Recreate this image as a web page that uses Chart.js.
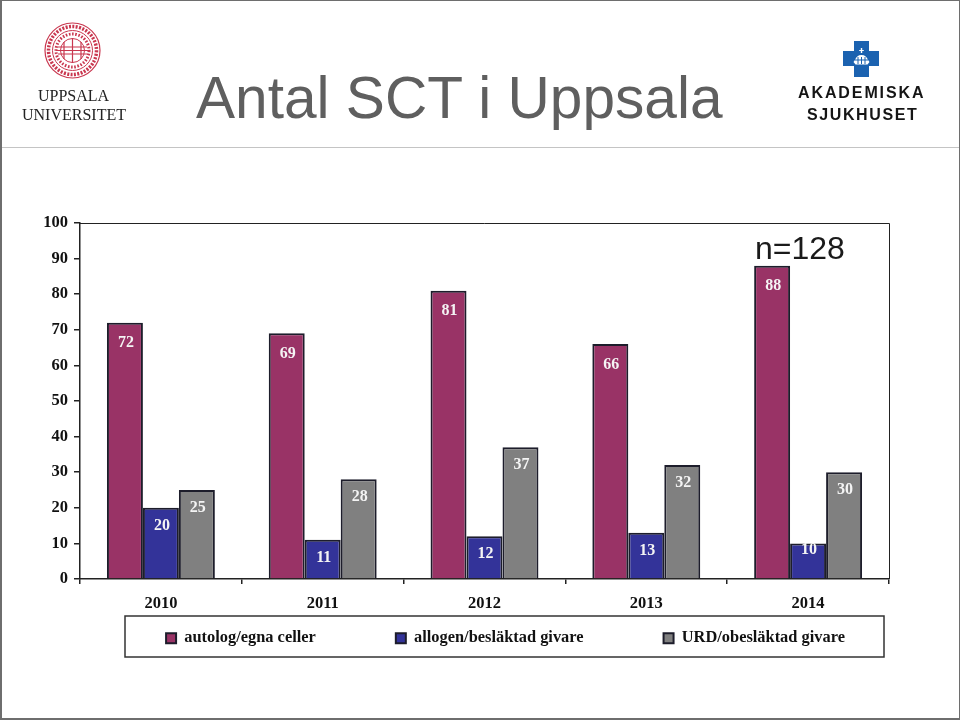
<!DOCTYPE html>
<html>
<head>
<meta charset="utf-8">
<title>Antal SCT i Uppsala</title>
<script src="https://cdn.jsdelivr.net/npm/chart.js@4"></script>
<style>
html, body { margin: 0; padding: 0; background: #fff; }
#slide { position: relative; width: 960px; height: 720px; overflow: hidden; }
#slide canvas { position: absolute; left: 0; top: 0; }
.txt { position: absolute; white-space: nowrap; line-height: 1; }
#frame { position: absolute; left: 0; top: 0; width: 957px; height: 717px; border: 1px solid #6e6e6e; border-left-width: 2px; border-bottom-width: 2px; }
#rule { position: absolute; left: 0; top: 147px; width: 960px; height: 1px; background: #c4c4c4; }
#title { left: 196px; top: 64px; font: 58.600px "Liberation Sans"; color: #5f5f5f; }
#count { left: 755px; top: 230px; font: 32px "Liberation Sans"; color: #1a1a1a; }
.uu { font-family: "Liberation Serif"; color: #222; }
.as { font-family: "Liberation Sans"; font-weight: bold; color: #151515; }
#logos { position: absolute; left: 0; top: 0; }
</style>
</head>
<body>
<div id="slide">
  <canvas id="sct" width="960" height="720"></canvas>
  <div id="rule"></div>
  <svg id="logos" width="960" height="147">
    <g fill="none" stroke="#c9374f">
      <circle cx="72.5" cy="50.5" r="27.5" stroke-width="1.2"/>
      <circle cx="72.5" cy="50.5" r="24" stroke-width="3.5" stroke-dasharray="2 1.4"/>
      <circle cx="72.5" cy="50.5" r="20" stroke-width="1"/>
      <circle cx="72.5" cy="50.5" r="16.5" stroke-width="3" stroke-dasharray="1.6 1.6"/>
      <circle cx="72.5" cy="50.5" r="12" stroke-width="1"/>
      <path d="M56 50.5h33M58 47h29M58 54h29M72.5 38v25M64 42v17M81 42v17" stroke-width="1.2"/>
    </g>
    <path fill="#1b62b0" d="M854 41h15v10h10v15h-10v11h-15v-11h-11v-15h11z"/>
    <path fill="#fff" d="M860.8 48h1.4v2h1.6v1h-1.6v2h-1.4v-2h-1.6v-1h1.6zM855 60c1-3 3-5 6.500-5s5.500 2 6.500 5l1.500 2-2 2.500h-12l-2-2.500z"/>
    <path fill="none" stroke="#1b62b0" d="M855 60h13M858 57v7M861.500 57v7M865 57v7"/>
  </svg>
  <div class="txt uu" style="left:38px;top:88px;font-size:16px">UPPSALA</div>
  <div class="txt uu" style="left:22px;top:107px;font-size:16px">UNIVERSITET</div>
  <div class="txt as" style="left:798px;top:85px;font-size:16px;letter-spacing:1.900px">AKADEMISKA</div>
  <div class="txt as" style="left:807px;top:107px;font-size:16px;letter-spacing:1.600px">SJUKHUSET</div>
  <div class="txt" id="title">Antal SCT i Uppsala</div>
  <div class="txt" id="count">n=128</div>
  <div id="frame"></div>
</div>
<script>
var years = ["2010", "2011", "2012", "2013", "2014"];
var autolog = [72, 69, 81, 66, 88];
var allogen = [20, 11, 12, 13, 10];
var urd = [25, 28, 37, 32, 30];

var serif = "Liberation Serif";
var edge = "#1d1d2b";

// value labels sit inside the bar top, the short 10 bar gets them closer
var barLabels = {
    id: "barLabels",
    afterDatasetsDraw: function (chart) {
        var ctx = chart.ctx;
        ctx.save();
        ctx.font = "bold 16px '" + serif + "'";
        ctx.fillStyle = "#f4f4f4";
        ctx.textAlign = "center";
        ctx.textBaseline = "middle";
        chart.data.datasets.forEach(function (ds, i) {
            chart.getDatasetMeta(i).data.forEach(function (bar, j) {
                var down = ds.data[j] === 10 ? 6 : (i === 0 ? 20.5 : 18);
                ctx.fillText(ds.data[j], bar.x + 1, bar.y + down);
            });
        });
        ctx.restore();
    }
};

// closes the plot on top and right, and draws the box round the legend
var boxes = {
    id: "boxes",
    afterLayout: function (chart) {
        var lg = chart.legend;
        var shift = 51;
        lg.left += shift;
        lg.right += shift;
        lg.top = 630 - 80;
        lg.bottom = 660;
    },
    beforeDraw: function (chart) {
        var ctx = chart.ctx;
        ctx.save();
        ctx.strokeStyle = "#333";
        ctx.lineWidth = 1.5;
        ctx.strokeRect(125, 616, 759, 41);
        ctx.restore();
    },
    afterDraw: function (chart) {
        var a = chart.chartArea;
        var ctx = chart.ctx;
        ctx.save();
        ctx.strokeStyle = "#222";
        ctx.lineWidth = 1;
        ctx.beginPath();
        ctx.moveTo(a.left, a.top + 0.5);
        ctx.lineTo(a.right + 0.5, a.top + 0.5);
        ctx.lineTo(a.right + 0.5, a.bottom);
        ctx.stroke();
        ctx.restore();
    }
};

new Chart("sct", {
    type: "bar",
    data: {
        labels: years,
        datasets: [
            { label: "autolog/egna celler", data: autolog, backgroundColor: "#993366" },
            { label: "allogen/besläktad givare", data: allogen, backgroundColor: "#333399" },
            { label: "URD/obesläktad givare", data: urd, backgroundColor: "#808080" }
        ]
    },
    options: {
        responsive: false,
        animation: false,
        datasets: {
            bar: {
                categoryPercentage: 0.667,
                barPercentage: 1,
                borderColor: edge,
                borderWidth: 2
            }
        },
        layout: { padding: { left: 20, right: 71, top: 223, bottom: 61 } },
        plugins: {
            legend: {
                position: "bottom",
                maxHeight: 40,
                labels: {
                    boxWidth: 10,
                    boxHeight: 10,
                    padding: 80,
                    color: "#111",
                    font: { family: serif, size: 16.400, weight: "bold" }
                }
            },
            tooltip: { enabled: false }
        },
        scales: {
            x: {
                afterFit: function (scale) { scale.height = 40; },
                grid: { drawOnChartArea: false, color: "#222", tickLength: 5, lineWidth: 1.5 },
                border: { color: "#222", width: 1.5 },
                ticks: {
                    color: "#111",
                    padding: 10,
                    maxRotation: 0,
                    font: { family: serif, size: 16.500, weight: "bold" }
                }
            },
            y: {
                min: 0,
                max: 100,
                afterFit: function (scale) { scale.width = 60; },
                grid: { drawOnChartArea: false, color: "#222", tickLength: 6, lineWidth: 1.5 },
                border: { color: "#222", width: 1.5 },
                ticks: {
                    stepSize: 10,
                    color: "#111",
                    padding: 6,
                    font: { family: serif, size: 16.500, weight: "bold" }
                }
            }
        }
    },
    plugins: [barLabels, boxes]
});
</script>
</body>
</html>
